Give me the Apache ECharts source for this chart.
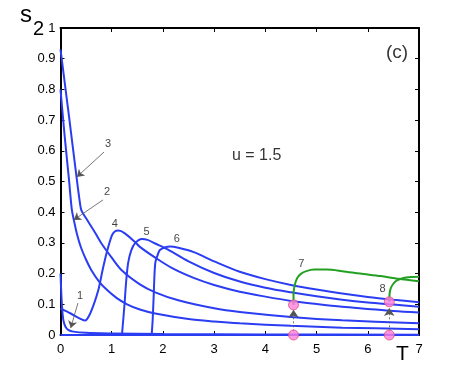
<!DOCTYPE html>
<html>
<head>
<meta charset="utf-8">
<script src="https://cdn.jsdelivr.net/npm/echarts@6/dist/echarts.min.js"></script>
<style>
  html, body { margin: 0; padding: 0; background: #fff; }
  #chartDemo { width: 463px; height: 377px; }
</style>
</head>
<body>
<div id="chartDemo"></div>
<script>
// curves, [T, s2]
var curve1 = [[0,0.2],[0.02,0.12],[0.04,0.07],[0.06,0.045],[0.1,0.026],[0.15,0.017],[0.25,0.011],[0.5,0.007],[1,0.005],[2,0.003],[4,0.002],[7,0.001]];
var curve2 = [[0,0.8],[0.08,0.65],[0.166,0.505],[0.22,0.41],[0.26,0.375],[0.32,0.33],[0.4,0.285],[0.5,0.245],[0.6,0.212],[0.75,0.175],[0.9,0.148],[1.1,0.12],[1.3,0.1],[1.55,0.083],[1.85,0.07],[2.5,0.052],[3,0.044],[3.5,0.038],[4.5,0.03],[5.5,0.024],[7,0.019]];
var curve3 = [[0,0.93],[0.16,0.72],[0.32,0.505],[0.38,0.43],[0.41,0.405],[0.5,0.38],[0.67,0.335],[0.8,0.298],[1,0.252],[1.2,0.21],[1.55,0.165],[1.85,0.139],[2.3,0.113],[3,0.087],[3.5,0.075],[4.5,0.059],[5.5,0.048],[7,0.038]];
var curve4 = [[0,0.087],[0.2,0.07],[0.4,0.052],[0.48,0.047],[0.55,0.06],[0.65,0.1],[0.74,0.147],[0.82,0.21],[0.9,0.267],[1,0.323],[1.06,0.337],[1.13,0.34],[1.25,0.332],[1.46,0.302],[1.55,0.287],[1.85,0.252],[2.2,0.216],[2.6,0.186],[3,0.163],[3.5,0.141],[4,0.125],[4.5,0.111],[5,0.101],[5.5,0.092],[6,0.085],[6.5,0.078],[7,0.073]];
var curve5 = [[1.2,0],[1.22,0.04],[1.25,0.1],[1.28,0.17],[1.32,0.234],[1.38,0.275],[1.46,0.3],[1.59,0.313],[1.7,0.31],[1.85,0.298],[2.1,0.278],[2.5,0.24],[3,0.202],[3.5,0.174],[4,0.154],[4.5,0.139],[5,0.126],[5.5,0.115],[6,0.106],[6.5,0.099],[7,0.092]];
var curve6 = [[1.78,0],[1.8,0.05],[1.82,0.13],[1.85,0.234],[1.9,0.262],[1.94,0.277],[2.05,0.286],[2.14,0.288],[2.3,0.284],[2.6,0.27],[3,0.24],[3.5,0.206],[4,0.182],[4.5,0.163],[5,0.148],[5.5,0.135],[6,0.124],[6.5,0.115],[7,0.107]];
var zeroLine = [[0,0],[7,0]];
var curve7 = [[4.55,0.098],[4.55,0.13],[4.57,0.16],[4.62,0.185],[4.7,0.2],[4.8,0.208],[4.95,0.213],[5.2,0.213],[5.5,0.208],[5.85,0.2],[6.25,0.192],[6.6,0.183],[7,0.175]];
var curve8 = [[6.42,0.108],[6.43,0.14],[6.47,0.16],[6.55,0.176],[6.68,0.185],[6.85,0.189],[7,0.19]];
var pinkPoints = [[4.55,0.098],[4.55,0],[6.42,0.108],[6.42,0]];
var upArrows = [[[4.55,0.012],[4.55,0.082]],[[6.42,0.012],[6.42,0.088]]];
var pointerArrows = [[[0.85,0.596],[0.32,0.515]],[[0.83,0.44],[0.26,0.375]],[[0.34,0.104],[0.2,0.023]]];
var curveLabels = [[0.38,0.127,'1'],[0.91,0.465,'2'],[0.93,0.622,'3'],[1.06,0.362,'4'],[1.68,0.337,'5'],[2.27,0.312,'6'],[4.7,0.23,'7'],[6.29,0.15,'8']];
var xTicks = [0,1,2,3,4,5,6,7];
var yTicks = [0,0.1,0.2,0.3,0.4,0.5,0.6,0.7,0.8,0.9,1];

var blue = '#2b3df2';
var green = '#22a022';
var font = 'Liberation Sans, Arial, sans-serif';

var chart = echarts.init(document.getElementById('chartDemo'));

function curve(d, color) {
    return {
        type: 'line', data: d, showSymbol: false, symbol: 'none', smooth: 0.3,
        lineStyle: { color: color, width: 2 }, z: 3, silent: true
    };
}

var series = [
    curve(zeroLine, blue), curve(curve1, blue), curve(curve2, blue), curve(curve3, blue),
    curve(curve4, blue), curve(curve5, blue), curve(curve6, blue),
    curve(curve7, green), curve(curve8, green),
    {
        type: 'line', data: [], silent: true,
        markLine: {
            silent: true, animation: false, symbol: ['none', 'arrow'], symbolSize: 7,
            label: { show: false },
            lineStyle: { color: '#555', width: 0.8, type: 'solid' },
            emphasis: { disabled: true },
            data: pointerArrows.map(function (a) { return [{ coord: a[0] }, { coord: a[1] }]; })
        }
    },
    {
        type: 'line', data: [], silent: true,
        markLine: {
            silent: true, animation: false, symbol: ['none', 'arrow'], symbolSize: 8,
            label: { show: false },
            lineStyle: { color: '#555', width: 0.8, type: [2, 2] },
            itemStyle: { color: '#000' },
            emphasis: { disabled: true },
            data: upArrows.map(function (a) { return [{ coord: a[0] }, { coord: a[1] }]; })
        }
    },
    {
        type: 'scatter', data: pinkPoints, symbolSize: 10, z: 5, silent: true,
        itemStyle: { color: '#ff80e0', borderColor: '#e0507a', borderWidth: 1 }
    },
    {
        type: 'scatter', silent: true, symbolSize: 1, z: 6,
        itemStyle: { color: 'rgba(0,0,0,0)' },
        data: curveLabels.map(function (l) { return { value: [l[0], l[1]], name: l[2] }; }),
        label: { show: true, position: 'inside', formatter: '{b}', color: '#111', fontSize: 11, fontFamily: font }
    },
    {
        type: 'scatter', silent: true, symbolSize: 1, z: 6,
        itemStyle: { color: 'rgba(0,0,0,0)' },
        data: [{ value: [3.83, 0.586], name: 'u = 1.5' }],
        label: { show: true, position: 'inside', formatter: '{b}', color: '#000', fontSize: 16, fontFamily: font }
    },
    {
        type: 'scatter', silent: true, symbolSize: 1, z: 6,
        itemStyle: { color: 'rgba(0,0,0,0)' },
        data: [{ value: [6.57, 0.918], name: '(c)' }],
        label: { show: true, position: 'inside', formatter: '{b}', color: '#000', fontSize: 19, fontFamily: font }
    }
];

var axisBase = {
    axisLine: { show: true, onZero: false, lineStyle: { color: '#000', width: 2 } },
    axisTick: { show: true, inside: true, length: 4, lineStyle: { color: '#000', width: 1 } },
    splitLine: { show: false }
};

var option = {
    animation: false,
    backgroundColor: '#fff',
    grid: { left: 60.5, right: 44, top: 28, bottom: 42 },
    xAxis: [
        Object.assign({ type: 'value', min: xTicks[0], max: xTicks[xTicks.length - 1], interval: 1, position: 'bottom',
            axisLabel: { color: '#000', fontSize: 13, fontFamily: font, margin: 8 } }, axisBase),
        Object.assign({ type: 'value', min: xTicks[0], max: xTicks[xTicks.length - 1], interval: 1, position: 'top',
            axisLabel: { show: false } }, axisBase)
    ],
    yAxis: [
        Object.assign({ type: 'value', min: yTicks[0], max: yTicks[yTicks.length - 1], interval: 0.1, position: 'left',
            axisLabel: { color: '#000', fontSize: 13, fontFamily: font, margin: 5 } }, axisBase),
        Object.assign({ type: 'value', min: yTicks[0], max: yTicks[yTicks.length - 1], interval: 0.1, position: 'right',
            axisLabel: { show: false } }, axisBase)
    ],
    graphic: [
        { type: 'text', left: 20, top: 3, style: { text: 's', font: '24px ' + font, fill: '#000' } },
        { type: 'text', left: 33, top: 19, style: { text: '2', font: '20px ' + font, fill: '#000' } },
        { type: 'text', left: 396, top: 344, style: { text: 'T', font: '21px ' + font, fill: '#000' } }
    ],
    series: series
};

chart.setOption(option);
</script>
</body>
</html>
